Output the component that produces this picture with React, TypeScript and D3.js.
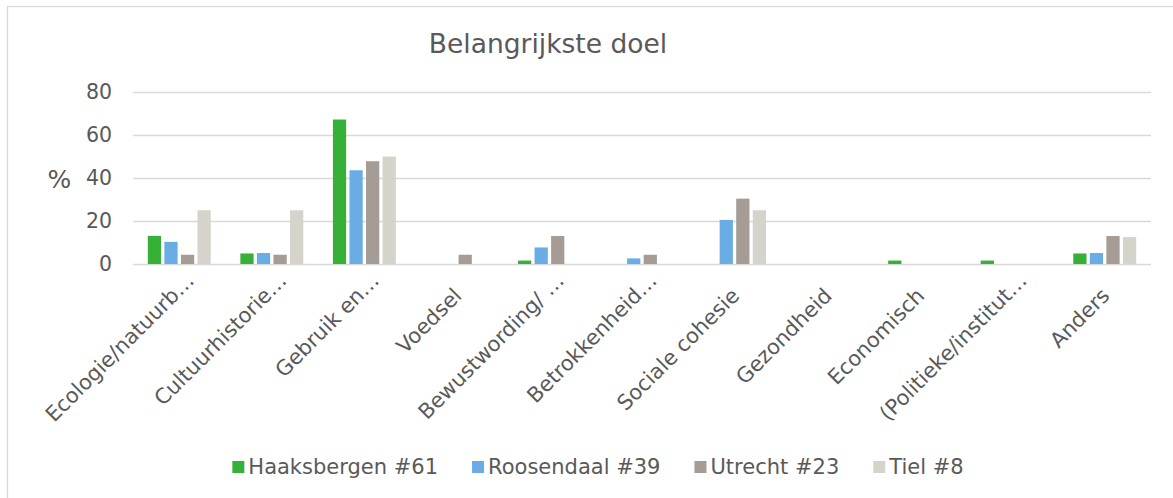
import React, { useEffect, useRef } from 'react';
import * as d3 from 'd3';

// categories as shown on the axis (Excel truncated the long ones)
const categories = [
  'Ecologie/natuurb…',
  'Cultuurhistorie…',
  'Gebruik en…',
  'Voedsel',
  'Bewustwording/ …',
  'Betrokkenheid…',
  'Sociale cohesie',
  'Gezondheid',
  'Economisch',
  '(Politieke/institut…',
  'Anders',
];
const truncated = [true, true, true, false, true, true, false, false, false, true, false];

const seriesNames = ['Haaksbergen #61', 'Roosendaal #39', 'Utrecht #23', 'Tiel #8'];
const seriesColors = ['#37b037', '#6aade4', '#a59c95', '#d6d3cb'];

// percentages per category
const haaksbergen = [13.1, 4.9, 67.2, 0, 1.6, 0, 0, 0, 1.6, 1.6, 4.9];
const roosendaal = [10.3, 5.1, 43.6, 0, 7.7, 2.6, 20.5, 0, 0, 0, 5.1];
const utrecht = [4.3, 4.3, 47.8, 4.3, 13.0, 4.3, 30.4, 0, 0, 0, 13.0];
const tiel = [25, 25, 50, 0, 0, 0, 25, 0, 0, 0, 12.5];
const seriesValues = [haaksbergen, roosendaal, utrecht, tiel];

const yTicks = [0, 20, 40, 60, 80];

const FONT = '"DejaVu Sans", Verdana, sans-serif';
const TEXT = '#595959';
const GRID = '#d9d9d9';

const BarChart: React.FC = (): JSX.Element => {
  const chartRef = useRef<SVGSVGElement | null>(null);

  useEffect(() => {
    document.body.style.margin = '0';
    if (!chartRef.current) return;
    const svg = d3.select(chartRef.current);
    svg.selectAll('*').remove();

    const width = 1173;
    const height = 498;
    const plot = { left: 133, right: 1151, top: 92, bottom: 264 };

    svg.append('rect').attr('width', width).attr('height', height).attr('fill', '#fff');

    // outer chart border (only top/left visible in the crop)
    svg
      .append('rect')
      .attr('x', 7.5)
      .attr('y', 6.5)
      .attr('width', 1400)
      .attr('height', 800)
      .attr('fill', 'none')
      .attr('stroke', GRID)
      .attr('stroke-width', 1.3);

    svg
      .append('text')
      .attr('x', 548)
      .attr('y', 53)
      .attr('text-anchor', 'middle')
      .attr('font-family', FONT)
      .attr('font-size', 26.5)
      .attr('fill', TEXT)
      .text('Belangrijkste doel');

    const x0 = d3
      .scaleBand<string>()
      .domain(categories)
      .range([plot.left, plot.right])
      .paddingInner(0.32)
      .paddingOuter(0.16);
    const x1 = d3
      .scaleBand<string>()
      .domain(seriesNames)
      .range([0, x0.bandwidth()])
      .paddingInner(0.2);
    const y = d3.scaleLinear().domain([0, 80]).range([plot.bottom, plot.top]);

    // gridlines + y labels
    const yAxis = svg
      .append('g')
      .attr('transform', `translate(${plot.left},0)`)
      .call(
        d3
          .axisLeft(y)
          .tickValues(yTicks)
          .tickSize(-(plot.right - plot.left))
          .tickPadding(21)
      );
    yAxis.select('.domain').remove();
    yAxis.selectAll('line').attr('stroke', GRID).attr('stroke-width', 1.3);
    yAxis
      .selectAll('text')
      .attr('font-family', FONT)
      .attr('font-size', 20.5)
      .attr('fill', TEXT);

    svg
      .append('text')
      .attr('x', 59.5)
      .attr('y', 179)
      .attr('dy', '0.35em')
      .attr('text-anchor', 'middle')
      .attr('font-family', FONT)
      .attr('font-size', 25)
      .attr('fill', TEXT)
      .text('%');

    // bars
    const groups = svg
      .append('g')
      .selectAll('g')
      .data(categories)
      .join('g')
      .attr('transform', (d) => `translate(${x0(d)},0)`);
    groups
      .selectAll('rect')
      .data((_, i) => seriesNames.map((s, k) => ({ s, k, v: seriesValues[k][i] })))
      .join('rect')
      .filter((d) => d.v > 0)
      .attr('x', (d) => x1(d.s) as number)
      .attr('y', (d) => y(d.v))
      .attr('width', x1.bandwidth())
      .attr('height', (d) => y(0) - y(d.v))
      .attr('fill', (d) => seriesColors[d.k]);

    // category labels, rotated
    svg
      .append('g')
      .selectAll('text')
      .data(categories)
      .join('text')
      .attr('transform', (d, i) => {
        const cx = (x0(d) as number) + x0.bandwidth() / 2;
        const ax = truncated[i] ? cx + 16 : cx + 6;
        const ay = truncated[i] ? 282 : 297;
        return `translate(${ax},${ay}) rotate(-45)`;
      })
      .attr('text-anchor', 'end')
      .attr('font-family', FONT)
      .attr('font-size', 21)
      .attr('fill', TEXT)
      .text((d) => d);

    // legend
    const legend = svg.append('g');
    const items = legend
      .selectAll('g')
      .data(seriesNames)
      .join('g');
    items
      .append('rect')
      .attr('y', 461)
      .attr('width', 12)
      .attr('height', 12)
      .attr('fill', (_, k) => seriesColors[k]);
    items
      .append('text')
      .attr('x', 16)
      .attr('y', 474)
      .attr('font-family', FONT)
      .attr('font-size', 21)
      .attr('fill', TEXT)
      .text((d) => d);
    const widths: number[] = [];
    items.each(function () {
      const t = d3.select(this).select('text').node() as SVGTextElement;
      widths.push(16 + t.getComputedTextLength());
    });
    const gap = 34;
    const total = d3.sum(widths) + gap * (widths.length - 1);
    let cursor = 598 - total / 2;
    items.attr('transform', (_, k) => {
      const tx = cursor;
      cursor += widths[k] + gap;
      return `translate(${tx},0)`;
    });
  }, []);

  return <svg ref={chartRef} width={1173} height={498} style={{ display: 'block' }}></svg>;
};

export default function App() {
  return <BarChart />;
}
